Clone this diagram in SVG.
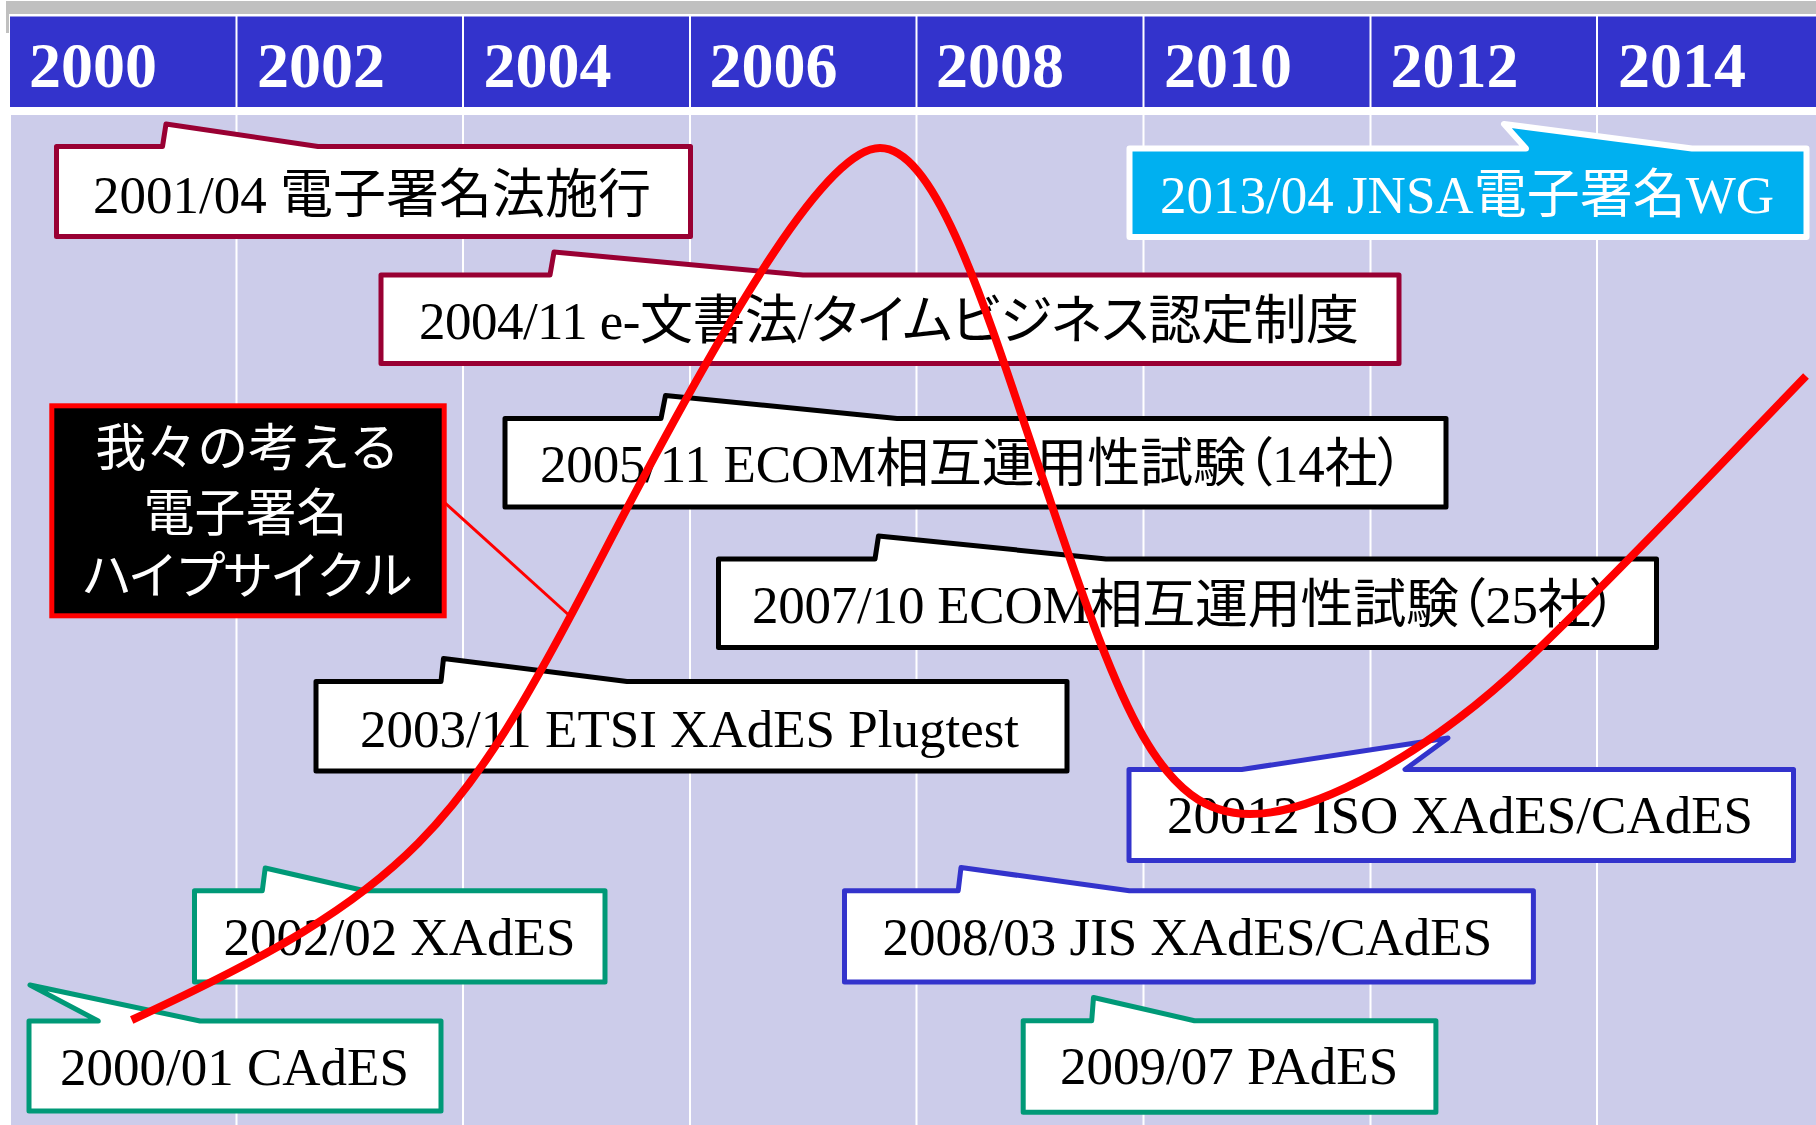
<svg xmlns="http://www.w3.org/2000/svg" width="1816" height="1125" viewBox="0 0 1816 1125">
<style>
.yr{font-family:"Liberation Serif",serif;font-weight:bold;font-size:64px;fill:#fff}
.lbl{font-family:"Liberation Serif","Noto Sans CJK JP",serif;font-size:53px;fill:#000}
.palt{font-feature-settings:"palt" 1}
.box{fill:#fff;stroke-width:5;stroke-linejoin:round}
.dr{stroke:#990033}
.gr{stroke:#009977}
.bl{stroke:#3333cc}
.bk{stroke:#000}
.div{stroke:#fff;stroke-width:2}
.hype{font-family:"Noto Sans CJK JP",sans-serif;font-size:51px;fill:#fff;text-anchor:middle}
</style>
<rect width="1816" height="1125" fill="#fff"/>
<g id="background">
<rect x="6" y="1" width="1810" height="13" fill="#c0c0c0"/>
<rect x="6" y="14" width="3" height="19" fill="#c0c0c0"/>
<rect x="10" y="16.5" width="1806" height="90.5" fill="#3333cc"/>
<rect x="11" y="115" width="1805" height="1010" fill="#ccccea"/>
<g class="div">
<line x1="236.5" y1="16" x2="236.5" y2="1125"/>
<line x1="463" y1="16" x2="463" y2="1125"/>
<line x1="690" y1="16" x2="690" y2="1125"/>
<line x1="916.5" y1="16" x2="916.5" y2="1125"/>
<line x1="1143.5" y1="16" x2="1143.5" y2="1125"/>
<line x1="1370.5" y1="16" x2="1370.5" y2="1125"/>
<line x1="1597" y1="16" x2="1597" y2="1125"/>
</g>
<g id="years">
<text class="yr" x="29" y="87">2000</text>
<text class="yr" x="257" y="87">2002</text>
<text class="yr" x="483.5" y="87">2004</text>
<text class="yr" x="709.5" y="87">2006</text>
<text class="yr" x="936" y="87">2008</text>
<text class="yr" x="1164" y="87">2010</text>
<text class="yr" x="1390.5" y="87">2012</text>
<text class="yr" x="1618" y="87">2014</text>
</g>
</g>
<g id="n2001-04">
<path class="box dr" d="M56.5,146.5 L162.5,146.5 L166,124 L318,146.5 L690.5,146.5 L690.5,236.5 L56.5,236.5 Z"/>
<text class="lbl" x="93" y="213">2001/04 電子署名法施行</text>
</g>
<g id="n2013-04">
<path d="M1129.5,148.5 L1526,148.5 L1504,124 L1692,148.5 L1806.5,148.5 L1806.5,237 L1129.5,237 Z" fill="#00b0f0" stroke="#fff" stroke-width="6" stroke-linejoin="round"/>
<text class="lbl" x="1160" y="213" style="fill:#fff">2013/04 JNSA電子署名WG</text>
</g>
<g id="n2004-11">
<path class="box dr" d="M381,275 L550,275 L554,252 L803,275 L1399,275 L1399,363.5 L381,363.5 Z"/>
<text class="lbl palt" x="419" y="339" textLength="940">2004/11 e-文書法/タイムビジネス認定制度</text>
</g>
<g id="n2005-11">
<path class="box bk" d="M505,418.5 L661,418.5 L665.5,395.5 L897,418.5 L1446,418.5 L1446,507 L505,507 Z"/>
<text class="lbl palt" x="540" y="482" textLength="864">2005/11 ECOM相互運用性試験（14社）</text>
</g>
<g id="n2007-10">
<path class="box bk" d="M718.5,559 L875,559 L878.5,536 L1106,559 L1656.5,559 L1656.5,647.5 L718.5,647.5 Z"/>
<text class="lbl palt" x="752" y="623" textLength="865">2007/10 ECOM相互運用性試験（25社）</text>
</g>
<g id="n2003-11">
<path class="box bk" d="M316,681.5 L441,681.5 L443.5,658.5 L627,681.5 L1067,681.5 L1067,771 L316,771 Z"/>
<text class="lbl" x="360" y="747">2003/11 ETSI XAdES Plugtest</text>
</g>
<g id="n2002-02">
<path class="box gr" d="M194.5,890.7 L262.3,890.7 L265.2,868 L364.5,890.7 L605,890.7 L605,982 L194.5,982 Z"/>
<text class="lbl" x="223.5" y="955">2002/02 XAdES</text>
</g>
<g id="n2000-01">
<path class="box gr" d="M29,1021 L98.3,1021 L30,985 L200,1021 L441,1021 L441,1111 L29,1111 Z"/>
<text class="lbl" x="60" y="1085">2000/01 CAdES</text>
</g>
<g id="n20012">
<path class="box bl" d="M1129,769.5 L1241.7,769.5 L1448,738 L1405,769.5 L1793.5,769.5 L1793.5,860.5 L1129,860.5 Z"/>
<text class="lbl" x="1167" y="833">20012 ISO XAdES/CAdES</text>
</g>
<g id="n2008-03">
<path class="box bl" d="M844.5,890.7 L958.2,890.7 L961,867.5 L1129.4,890.7 L1533.4,890.7 L1533.4,982 L844.5,982 Z"/>
<text class="lbl" x="882.6" y="955">2008/03 JIS XAdES/CAdES</text>
</g>
<g id="n2009-07">
<path class="box gr" d="M1023.2,1020.7 L1091.7,1020.7 L1093.5,997.5 L1194.5,1020.7 L1435.9,1020.7 L1435.9,1112.3 L1023.2,1112.3 Z"/>
<text class="lbl" x="1060" y="1084">2009/07 PAdES</text>
</g>
<g id="hype-cycle-title">
<rect x="51.8" y="405.8" width="392.4" height="210" fill="#000" stroke="#ff0000" stroke-width="5"/>
<text class="hype" x="247.5" y="466">我々の考える</text>
<text class="hype" x="245.5" y="531">電子署名</text>
<text class="hype" x="247" y="594" textLength="332">ハイプサイクル</text>
</g>
<g id="connectors">
<path id="hype-curve" fill="none" stroke="#ff0000" stroke-width="8" d="M131.7,1020 C411.7,891.2 460,830.2 600,560 C740,289.8 830,148 880,148 C940,148 991,326 1051,503 C1121,709.5 1160,814 1250,814 C1315,814 1427,755 1527,660 C1617,574.5 1746,438 1806,376"/>
<line x1="444" y1="502" x2="571" y2="617" stroke="#ff0000" stroke-width="3"/>
</g>
</svg>
